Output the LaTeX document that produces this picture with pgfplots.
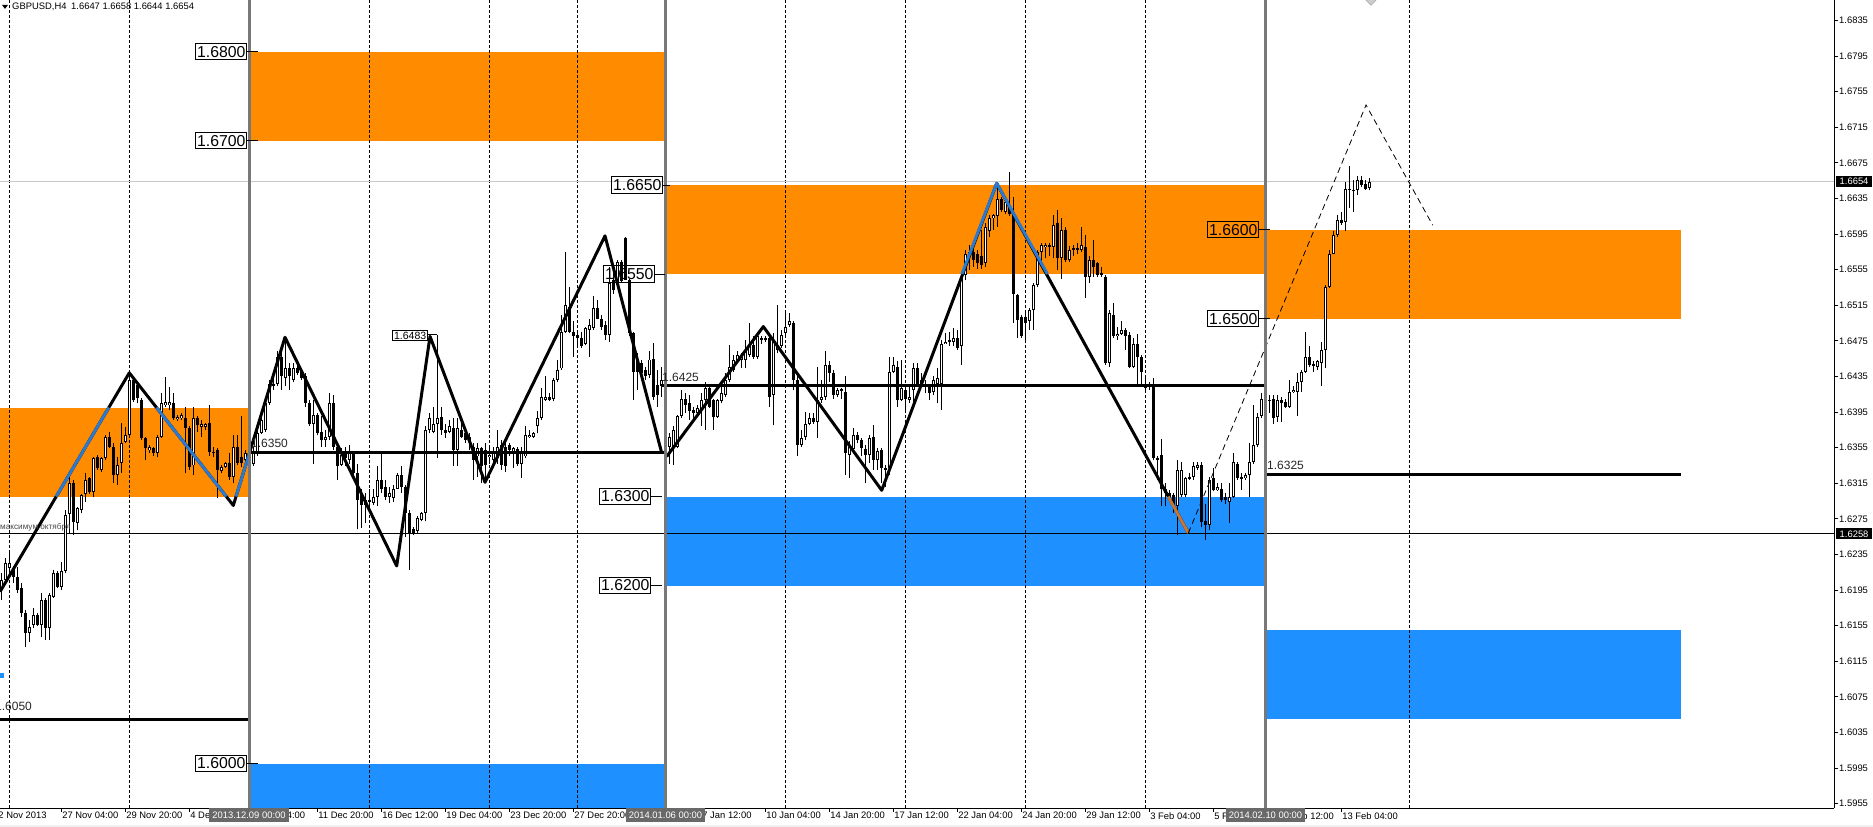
\documentclass[border=0pt]{standalone}
\usepackage{fontspec}
\setmainfont{Liberation Sans}
\usepackage{pgfplots}
\pgfplotsset{compat=1.18}
\usepackage{pgfplotstable}
\definecolor{zorange}{RGB}{255,140,0}
\definecolor{zblue}{RGB}{30,144,255}
\definecolor{zzblue}{RGB}{42,122,210}
\definecolor{zzbrown}{RGB}{200,117,51}
\definecolor{sepgray}{RGB}{120,120,120}
\definecolor{dategray}{RGB}{105,105,105}
\newcommand{\ticksize}{\fontsize{9.4bp}{11bp}\selectfont}
\tikzset{lvl/.style={draw=black, line width=0.8bp, inner xsep=1.2bp, inner ysep=0pt, minimum height=16.5bp, font=\fontsize{15.8bp}{17bp}\selectfont, text=black},
 piv/.style={anchor=south west, inner sep=0pt, font=\fontsize{12bp}{13bp}\selectfont, text=black!85},
 datebox/.style={fill=dategray, text=white, font=\ticksize, inner xsep=3bp, inner ysep=0pt, minimum height=14bp, anchor=north},
 curbox/.style={fill=black, text=white, font=\ticksize, inner xsep=3.5bp, inner ysep=0pt, minimum height=11bp, anchor=west}}
\pgfplotstableread{
x o h l c
1.2 1.6195 1.6214 1.6184 1.6206
5.2 1.6206 1.6231 1.6204 1.6225
9.2 1.6220 1.6240 1.6210 1.6225
13.2 1.6220 1.6222 1.6203 1.6210
17.2 1.6210 1.6221 1.6192 1.6195
21.2 1.6197 1.6203 1.6165 1.6169
25.2 1.6169 1.6173 1.6131 1.6147
29.2 1.6147 1.6161 1.6137 1.6154
33.2 1.6156 1.6175 1.6152 1.6167
37.2 1.6167 1.6169 1.6154 1.6156
41.2 1.6156 1.6192 1.6142 1.6184
45.2 1.6184 1.6186 1.6139 1.6152
49.2 1.6152 1.6192 1.6139 1.6189
53.2 1.6187 1.6218 1.6186 1.6214
57.2 1.6214 1.6216 1.6197 1.6199
61.2 1.6199 1.6226 1.6195 1.6216
65.2 1.6216 1.6285 1.6214 1.6279
69.2 1.6281 1.6327 1.6259 1.6315
73.2 1.6315 1.6319 1.6257 1.6271
77.2 1.6270 1.6288 1.6262 1.6287
81.2 1.6285 1.6303 1.6281 1.6302
85.2 1.6303 1.6326 1.6294 1.6319
89.2 1.6321 1.6322 1.6303 1.6305
93.2 1.6305 1.6344 1.6300 1.6343
97.2 1.6344 1.6347 1.6330 1.6332
101.2 1.6330 1.6344 1.6328 1.6343
105.2 1.6343 1.6369 1.6341 1.6367
109.2 1.6367 1.6373 1.6354 1.6356
113.2 1.6356 1.6360 1.6315 1.6324
117.2 1.6324 1.6344 1.6313 1.6335
121.2 1.6338 1.6383 1.6327 1.6360
125.2 1.6361 1.6378 1.6360 1.6369
129.2 1.6369 1.6439 1.6367 1.6431
133.2 1.6431 1.6434 1.6406 1.6409
137.2 1.6425 1.6428 1.6405 1.6411
141.2 1.6409 1.6411 1.6364 1.6366
145.2 1.6366 1.6367 1.6341 1.6355
149.2 1.6352 1.6358 1.6349 1.6356
153.2 1.6355 1.6356 1.6346 1.6349
157.2 1.6349 1.6369 1.6344 1.6367
161.2 1.6367 1.6416 1.6366 1.6405
165.2 1.6403 1.6434 1.6401 1.6406
169.2 1.6403 1.6423 1.6397 1.6406
173.2 1.6405 1.6416 1.6386 1.6388
177.2 1.6387 1.6392 1.6385 1.6390
181.2 1.6388 1.6394 1.6386 1.6392
185.2 1.6388 1.6401 1.6326 1.6377
189.2 1.6377 1.6379 1.6330 1.6333
193.2 1.6335 1.6401 1.6324 1.6388
197.2 1.6388 1.6390 1.6373 1.6380
201.2 1.6378 1.6386 1.6367 1.6382
205.2 1.6378 1.6383 1.6375 1.6382
209.2 1.6383 1.6403 1.6346 1.6350
213.2 1.6350 1.6356 1.6344 1.6349
217.2 1.6352 1.6354 1.6298 1.6330
221.2 1.6329 1.6335 1.6326 1.6333
225.2 1.6333 1.6339 1.6332 1.6338
229.2 1.6338 1.6349 1.6319 1.6322
233.2 1.6322 1.6369 1.6315 1.6356
237.2 1.6356 1.6369 1.6335 1.6338
241.2 1.6344 1.6390 1.6333 1.6338
245.2 1.6341 1.6352 1.6338 1.6349
249.2 1.6349 1.6356 1.6346 1.6352
253.2 1.6337 1.6356 1.6334 1.6349
257.2 1.6349 1.6375 1.6345 1.6371
261.2 1.6371 1.6390 1.6370 1.6386
265.2 1.6375 1.6409 1.6373 1.6405
269.2 1.6405 1.6431 1.6403 1.6427
273.2 1.6427 1.6435 1.6420 1.6424
277.2 1.6427 1.6463 1.6424 1.6457
281.2 1.6457 1.6465 1.6420 1.6435
285.2 1.6433 1.6476 1.6424 1.6444
289.2 1.6444 1.6450 1.6420 1.6435
293.2 1.6431 1.6450 1.6429 1.6444
297.2 1.6444 1.6451 1.6437 1.6439
301.2 1.6441 1.6444 1.6431 1.6433
305.2 1.6435 1.6439 1.6401 1.6405
309.2 1.6405 1.6409 1.6379 1.6382
313.2 1.6382 1.6409 1.6337 1.6392
317.2 1.6392 1.6394 1.6369 1.6371
321.2 1.6373 1.6390 1.6356 1.6364
325.2 1.6364 1.6375 1.6356 1.6367
329.2 1.6367 1.6416 1.6364 1.6405
333.2 1.6405 1.6414 1.6352 1.6356
337.2 1.6356 1.6360 1.6319 1.6334
341.2 1.6335 1.6354 1.6334 1.6347
345.2 1.6349 1.6356 1.6334 1.6343
349.2 1.6341 1.6358 1.6337 1.6349
353.2 1.6349 1.6351 1.6322 1.6326
357.2 1.6326 1.6337 1.6263 1.6296
361.2 1.6304 1.6308 1.6265 1.6291
365.2 1.6291 1.6304 1.6270 1.6296
369.2 1.6296 1.6308 1.6289 1.6294
373.2 1.6293 1.6308 1.6291 1.6300
377.2 1.6300 1.6334 1.6289 1.6319
381.2 1.6319 1.6349 1.6304 1.6308
385.2 1.6311 1.6319 1.6296 1.6300
389.2 1.6300 1.6311 1.6293 1.6304
393.2 1.6298 1.6313 1.6294 1.6309
397.2 1.6309 1.6326 1.6308 1.6324
401.2 1.6324 1.6334 1.6304 1.6311
405.2 1.6311 1.6313 1.6255 1.6281
409.2 1.6281 1.6285 1.6218 1.6259
413.2 1.6263 1.6266 1.6257 1.6259
417.2 1.6261 1.6278 1.6259 1.6276
421.2 1.6274 1.6283 1.6272 1.6281
425.2 1.6281 1.6379 1.6272 1.6375
429.2 1.6375 1.6394 1.6371 1.6388
433.2 1.6373 1.6401 1.6371 1.6382
437.2 1.6382 1.6482 1.6343 1.6388
441.2 1.6390 1.6401 1.6369 1.6375
445.2 1.6375 1.6382 1.6366 1.6371
449.2 1.6373 1.6386 1.6371 1.6379
453.2 1.6377 1.6388 1.6334 1.6352
457.2 1.6352 1.6388 1.6334 1.6377
461.2 1.6375 1.6388 1.6366 1.6367
465.2 1.6371 1.6375 1.6360 1.6364
469.2 1.6367 1.6371 1.6352 1.6364
473.2 1.6356 1.6360 1.6319 1.6341
477.2 1.6345 1.6360 1.6322 1.6354
481.2 1.6354 1.6356 1.6315 1.6334
485.2 1.6352 1.6360 1.6315 1.6335
489.2 1.6345 1.6354 1.6337 1.6347
493.2 1.6341 1.6356 1.6337 1.6349
497.2 1.6343 1.6375 1.6337 1.6356
501.2 1.6358 1.6364 1.6330 1.6336
505.2 1.6356 1.6360 1.6328 1.6334
509.2 1.6358 1.6360 1.6345 1.6352
513.2 1.6349 1.6356 1.6332 1.6354
517.2 1.6354 1.6356 1.6334 1.6337
521.2 1.6337 1.6356 1.6321 1.6349
525.2 1.6345 1.6379 1.6343 1.6369
529.2 1.6367 1.6375 1.6366 1.6369
533.2 1.6367 1.6373 1.6366 1.6371
537.2 1.6379 1.6396 1.6371 1.6388
541.2 1.6388 1.6422 1.6386 1.6412
545.2 1.6409 1.6435 1.6407 1.6412
549.2 1.6412 1.6416 1.6407 1.6409
553.2 1.6410 1.6433 1.6407 1.6431
557.2 1.6431 1.6454 1.6429 1.6442
561.2 1.6444 1.6504 1.6442 1.6485
565.2 1.6485 1.6575 1.6484 1.6515
569.2 1.6513 1.6536 1.6484 1.6485
573.2 1.6485 1.6497 1.6457 1.6480
577.2 1.6482 1.6484 1.6469 1.6478
581.2 1.6478 1.6485 1.6467 1.6469
585.2 1.6472 1.6491 1.6470 1.6489
589.2 1.6487 1.6500 1.6457 1.6493
593.2 1.6489 1.6525 1.6487 1.6512
597.2 1.6512 1.6521 1.6499 1.6500
601.2 1.6500 1.6504 1.6487 1.6491
605.2 1.6493 1.6497 1.6476 1.6482
609.2 1.6482 1.6558 1.6474 1.6540
613.2 1.6543 1.6558 1.6528 1.6532
617.2 1.6538 1.6566 1.6536 1.6564
621.2 1.6564 1.6566 1.6540 1.6542
625.2 1.6590 1.6592 1.6543 1.6543
629.2 1.6543 1.6545 1.6480 1.6484
633.2 1.6484 1.6485 1.6409 1.6440
637.2 1.6452 1.6461 1.6420 1.6440
641.2 1.6450 1.6454 1.6435 1.6439
645.2 1.6442 1.6446 1.6431 1.6435
649.2 1.6437 1.6463 1.6433 1.6454
653.2 1.6455 1.6472 1.6409 1.6412
657.2 1.6425 1.6442 1.6401 1.6414
661.2 1.6424 1.6446 1.6412 1.6431
665.2 1.6430 1.6433 1.6345 1.6360
669.2 1.6356 1.6371 1.6337 1.6367
673.2 1.6356 1.6379 1.6336 1.6375
677.2 1.6356 1.6392 1.6354 1.6390
681.2 1.6390 1.6420 1.6388 1.6410
685.2 1.6410 1.6416 1.6394 1.6403
689.2 1.6405 1.6414 1.6386 1.6396
693.2 1.6397 1.6401 1.6384 1.6394
697.2 1.6394 1.6403 1.6392 1.6399
701.2 1.6397 1.6416 1.6379 1.6409
705.2 1.6409 1.6429 1.6375 1.6422
709.2 1.6422 1.6424 1.6399 1.6401
713.2 1.6409 1.6410 1.6375 1.6390
717.2 1.6390 1.6410 1.6388 1.6409
721.2 1.6407 1.6424 1.6405 1.6416
725.2 1.6414 1.6439 1.6412 1.6431
729.2 1.6431 1.6470 1.6429 1.6446
733.2 1.6442 1.6459 1.6440 1.6454
737.2 1.6454 1.6463 1.6452 1.6459
741.2 1.6454 1.6461 1.6444 1.6457
745.2 1.6454 1.6476 1.6444 1.6465
749.2 1.6459 1.6495 1.6457 1.6470
753.2 1.6470 1.6480 1.6455 1.6457
757.2 1.6457 1.6485 1.6455 1.6480
761.2 1.6478 1.6480 1.6471 1.6476
765.2 1.6478 1.6480 1.6474 1.6476
769.2 1.6478 1.6482 1.6401 1.6412
773.2 1.6414 1.6484 1.6380 1.6476
777.2 1.6465 1.6515 1.6461 1.6470
781.2 1.6469 1.6487 1.6467 1.6482
785.2 1.6484 1.6506 1.6480 1.6491
789.2 1.6493 1.6506 1.6491 1.6497
793.2 1.6495 1.6497 1.6420 1.6431
797.2 1.6431 1.6435 1.6345 1.6358
801.2 1.6358 1.6375 1.6356 1.6366
805.2 1.6367 1.6395 1.6364 1.6382
809.2 1.6382 1.6394 1.6380 1.6388
813.2 1.6388 1.6394 1.6382 1.6384
817.2 1.6384 1.6446 1.6366 1.6409
821.2 1.6409 1.6431 1.6405 1.6412
825.2 1.6412 1.6463 1.6409 1.6448
829.2 1.6448 1.6452 1.6429 1.6439
833.2 1.6439 1.6442 1.6410 1.6414
837.2 1.6414 1.6422 1.6412 1.6420
841.2 1.6421 1.6422 1.6410 1.6419
845.2 1.6418 1.6435 1.6324 1.6349
849.2 1.6347 1.6362 1.6321 1.6356
853.2 1.6354 1.6377 1.6352 1.6369
857.2 1.6369 1.6373 1.6360 1.6364
861.2 1.6364 1.6366 1.6345 1.6354
865.2 1.6354 1.6358 1.6315 1.6347
869.2 1.6347 1.6369 1.6338 1.6366
873.2 1.6367 1.6380 1.6330 1.6341
877.2 1.6341 1.6354 1.6330 1.6351
881.2 1.6352 1.6354 1.6315 1.6332
885.2 1.6332 1.6336 1.6311 1.6330
889.2 1.6332 1.6457 1.6324 1.6440
893.2 1.6440 1.6457 1.6439 1.6448
897.2 1.6446 1.6452 1.6401 1.6409
901.2 1.6409 1.6454 1.6407 1.6422
905.2 1.6420 1.6426 1.6394 1.6410
909.2 1.6409 1.6427 1.6405 1.6412
913.2 1.6420 1.6450 1.6405 1.6444
917.2 1.6444 1.6450 1.6426 1.6427
921.2 1.6427 1.6439 1.6426 1.6431
925.2 1.6424 1.6431 1.6416 1.6427
929.2 1.6426 1.6427 1.6409 1.6416
933.2 1.6418 1.6435 1.6414 1.6431
937.2 1.6427 1.6444 1.6405 1.6433
941.2 1.6427 1.6476 1.6397 1.6472
945.2 1.6472 1.6484 1.6471 1.6474
949.2 1.6474 1.6485 1.6469 1.6476
953.2 1.6474 1.6489 1.6469 1.6478
957.2 1.6478 1.6487 1.6465 1.6467
961.2 1.6469 1.6551 1.6448 1.6547
965.2 1.6549 1.6577 1.6543 1.6573
969.2 1.6572 1.6583 1.6555 1.6575
973.2 1.6575 1.6579 1.6558 1.6566
977.2 1.6572 1.6577 1.6556 1.6562
981.2 1.6570 1.6600 1.6556 1.6560
985.2 1.6562 1.6607 1.6558 1.6603
989.2 1.6598 1.6616 1.6592 1.6613
993.2 1.6613 1.6618 1.6600 1.6616
997.2 1.6615 1.6652 1.6603 1.6635
1001.2 1.6635 1.6637 1.6620 1.6622
1005.2 1.6620 1.6635 1.6618 1.6631
1009.2 1.6626 1.6665 1.6615 1.6618
1013.2 1.6618 1.6637 1.6495 1.6528
1017.2 1.6526 1.6528 1.6478 1.6498
1021.2 1.6502 1.6504 1.6478 1.6480
1025.2 1.6502 1.6510 1.6472 1.6495
1029.2 1.6497 1.6512 1.6487 1.6510
1033.2 1.6510 1.6540 1.6487 1.6538
1037.2 1.6538 1.6577 1.6536 1.6575
1041.2 1.6575 1.6585 1.6562 1.6583
1045.2 1.6581 1.6585 1.6568 1.6583
1049.2 1.6583 1.6585 1.6570 1.6581
1053.2 1.6581 1.6616 1.6568 1.6605
1057.2 1.6607 1.6622 1.6555 1.6568
1061.2 1.6568 1.6613 1.6545 1.6600
1065.2 1.6600 1.6603 1.6564 1.6566
1069.2 1.6566 1.6581 1.6564 1.6577
1073.2 1.6579 1.6583 1.6570 1.6577
1077.2 1.6579 1.6585 1.6573 1.6577
1081.2 1.6577 1.6603 1.6575 1.6583
1085.2 1.6581 1.6594 1.6523 1.6547
1089.2 1.6547 1.6570 1.6540 1.6566
1093.2 1.6566 1.6588 1.6547 1.6558
1097.2 1.6562 1.6564 1.6547 1.6549
1101.2 1.6551 1.6558 1.6547 1.6549
1105.2 1.6547 1.6549 1.6448 1.6450
1109.2 1.6450 1.6510 1.6446 1.6506
1113.2 1.6504 1.6517 1.6478 1.6480
1117.2 1.6480 1.6491 1.6476 1.6483
1121.2 1.6483 1.6497 1.6482 1.6487
1125.2 1.6487 1.6489 1.6465 1.6480
1129.2 1.6481 1.6485 1.6444 1.6446
1133.2 1.6446 1.6478 1.6444 1.6472
1137.2 1.6472 1.6483 1.6427 1.6457
1141.2 1.6457 1.6459 1.6426 1.6440
1145.2 1.6422 1.6435 1.6420 1.6426
1149.2 1.6424 1.6429 1.6420 1.6426
1153.2 1.6424 1.6433 1.6341 1.6343
1157.2 1.6341 1.6345 1.6319 1.6343
1161.2 1.6347 1.6365 1.6289 1.6309
1165.2 1.6309 1.6315 1.6289 1.6304
1169.2 1.6304 1.6307 1.6296 1.6300
1173.2 1.6302 1.6304 1.6281 1.6289
1177.2 1.6289 1.6341 1.6257 1.6330
1181.2 1.6302 1.6339 1.6300 1.6330
1185.2 1.6302 1.6322 1.6300 1.6321
1189.2 1.6321 1.6326 1.6319 1.6322
1193.2 1.6322 1.6339 1.6319 1.6334
1197.2 1.6332 1.6339 1.6330 1.6336
1201.2 1.6336 1.6339 1.6266 1.6272
1205.2 1.6272 1.6292 1.6251 1.6268
1209.2 1.6268 1.6322 1.6262 1.6319
1213.2 1.6321 1.6332 1.6306 1.6307
1217.2 1.6307 1.6315 1.6306 1.6311
1221.2 1.6309 1.6315 1.6294 1.6296
1225.2 1.6300 1.6304 1.6292 1.6296
1229.2 1.6294 1.6315 1.6270 1.6300
1233.2 1.6300 1.6349 1.6298 1.6339
1237.2 1.6337 1.6339 1.6319 1.6321
1241.2 1.6322 1.6326 1.6307 1.6321
1245.2 1.6321 1.6326 1.6319 1.6324
1249.2 1.6324 1.6360 1.6300 1.6339
1253.2 1.6339 1.6403 1.6337 1.6358
1257.2 1.6358 1.6394 1.6356 1.6390
1261.2 1.6390 1.6416 1.6388 1.6410
1265.2 1.6410 1.6420 1.6400 1.6409
1269.2 1.6409 1.6414 1.6394 1.6408
1273.2 1.6410 1.6414 1.6382 1.6388
1277.2 1.6390 1.6414 1.6384 1.6409
1281.2 1.6409 1.6412 1.6384 1.6405
1285.2 1.6406 1.6410 1.6399 1.6401
1289.2 1.6401 1.6431 1.6399 1.6418
1293.2 1.6418 1.6424 1.6416 1.6420
1297.2 1.6418 1.6439 1.6390 1.6429
1301.2 1.6429 1.6442 1.6418 1.6440
1305.2 1.6440 1.6485 1.6439 1.6457
1309.2 1.6457 1.6469 1.6446 1.6448
1313.2 1.6449 1.6452 1.6440 1.6447
1317.2 1.6446 1.6454 1.6442 1.6452
1321.2 1.6450 1.6474 1.6424 1.6465
1325.2 1.6465 1.6538 1.6444 1.6536
1329.2 1.6536 1.6577 1.6534 1.6573
1333.2 1.6573 1.6598 1.6572 1.6594
1337.2 1.6594 1.6616 1.6592 1.6611
1341.2 1.6611 1.6620 1.6605 1.6607
1345.2 1.6609 1.6654 1.6598 1.6646
1349.2 1.6646 1.6671 1.6624 1.6645
1353.2 1.6645 1.6656 1.6620 1.6643
1357.2 1.6645 1.6660 1.6639 1.6656
1361.2 1.6656 1.6660 1.6648 1.6650
1365.2 1.6651 1.6656 1.6645 1.6646
1369.2 1.6647 1.6658 1.6644 1.6654
}\candles
\begin{document}
\begin{tikzpicture}
\useasboundingbox (0,-19bp) rectangle (1873bp,808bp);
\begin{axis}[
  at={(0,0)}, anchor=south west, scale only axis,
  width=1834bp, height=808bp,
  xmin=0, xmax=1834, ymin=1.5950, ymax=1.6858,
  clip mode=individual,
  axis x line*=bottom, axis y line*=right,
  axis line style={black, line width=1bp},
  tick align=outside, major tick length=4bp,
  tick style={black, line width=0.8bp},
  xtick={61.2,125.2,189.2,253.2,317.2,381.2,445.2,509.2,573.2,701.2,765.2,829.2,893.2,957.2,1021.2,1085.2,1149.2,1213.2,1277.2,1341.2},
  xticklabels={27 Nov 04:00,29 Nov 20:00,4 Dec 12:00,9 Dec 04:00,11 Dec 20:00,16 Dec 12:00,19 Dec 04:00,23 Dec 20:00,27 Dec 20:00,7 Jan 12:00,10 Jan 04:00,14 Jan 20:00,17 Jan 12:00,22 Jan 04:00,24 Jan 20:00,29 Jan 12:00,3 Feb 04:00,5 Feb 20:00,10 Feb 12:00,13 Feb 04:00},
  xticklabel style={anchor=north west, inner sep=0pt, xshift=1bp, font=\ticksize},
  ytick={1.5955,1.5995,1.6035,1.6075,1.6115,1.6155,1.6195,1.6235,1.6275,1.6315,1.6355,1.6395,1.6435,1.6475,1.6515,1.6555,1.6595,1.6635,1.6675,1.6715,1.6755,1.6795,1.6835},
  scaled y ticks=false,
  yticklabel style={anchor=west, inner sep=0pt, xshift=1bp, font=\ticksize, /pgf/number format/.cd, fixed, fixed zerofill, precision=4, assume math mode=true},
]
% zones
\fill[zorange] (0,1.6300) rectangle (249,1.6400);
\fill[zblue] (0,1.6096) rectangle (4,1.6102);
\fill[zorange] (249,1.6700) rectangle (665.5,1.6800);
\fill[zblue] (249,1.5950) rectangle (665.5,1.6000);
\fill[zorange] (665.5,1.6550) rectangle (1265.5,1.6650);
\fill[zblue] (665.5,1.6200) rectangle (1265.5,1.6300);
\fill[zorange] (1265.5,1.6500) rectangle (1681,1.6600);
\fill[zblue] (1265.5,1.6050) rectangle (1681,1.6150);
% grid
\pgfplotsinvokeforeach{9.3,129.3,369.3,489.3,577.3,785.3,905.3,1025.3,1145.3,1409.3}{
  \draw[black, line width=0.8bp, dash pattern=on 3bp off 2bp] (#1,1.5950) -- (#1,1.6858);
}
\draw[black, line width=1bp] (0,1.6258) -- (1834,1.6258);
\draw[black!22, line width=1bp] (0,1.6654) -- (1834,1.6654);
% candles: wicks, bodies, hollow bullish bodies
\addplot[draw=none, mark=none, forget plot, error bars/.cd, y dir=plus, y explicit, error mark=none,
  error bar style={draw=black, line width=1bp}]
  table[x=x, y=l, y error expr=\thisrow{h}-\thisrow{l}] {\candles};
\addplot[draw=none, mark=none, forget plot, error bars/.cd, y dir=both, y explicit, error mark=none,
  error bar style={draw=black, line width=3.4bp}]
  table[x=x, y expr=(\thisrow{o}+\thisrow{c})/2, y error expr={max(abs(\thisrow{c}-\thisrow{o})/2,0.00006)}] {\candles};
\addplot[draw=none, mark=none, forget plot, restrict expr to domain={\thisrow{c}-\thisrow{o}}{0.0002:1},
  error bars/.cd, y dir=both, y explicit, error mark=none,
  error bar style={draw=white, line width=1.4bp}]
  table[x=x, y expr=(\thisrow{o}+\thisrow{c})/2, y error expr={(\thisrow{c}-\thisrow{o})/2-0.00011}] {\candles};
% pivot lines
\draw[black, line width=3bp] (0,1.6050) -- (249,1.6050);
\draw[black, line width=3bp] (249,1.6350) -- (665.5,1.6350);
\draw[black, line width=3bp] (661,1.6425) -- (1265.5,1.6425);
\draw[black, line width=3bp] (1265.5,1.6325) -- (1681,1.6325);
% zigzag
\addplot[black, line width=3bp, line join=round, mark=none] coordinates {(0,1.6193) (129.3,1.6439) (233.3,1.6290) (285,1.6479) (396.7,1.6222) (430,1.6480) (485,1.6316) (605,1.6593) (661.7,1.6349)};
\addplot[black, line width=3bp, line join=round, mark=none] coordinates {(666.7,1.6345) (763.3,1.6491) (881.7,1.6307) (996.7,1.6652) (1188.3,1.6259)};
\addplot[zzblue, line width=3bp, mark=none] coordinates {(56.2,1.6300) (108.8,1.6400)};
\addplot[zzblue, line width=3bp, mark=none] coordinates {(156.5,1.6400) (226.3,1.6300)};
\addplot[zzblue, line width=3bp, mark=none] coordinates {(236.0,1.6300) (249,1.6347)};
\addplot[zzblue, line width=3bp, line join=round, mark=none] coordinates {(961.9,1.6550) (996.7,1.6652) (1047.4,1.6550)};
\addplot[zzbrown, line width=3bp, mark=none] coordinates {(1168.2,1.6300) (1188.3,1.6259)};
\addplot[black, line width=0.8bp, dash pattern=on 6bp off 4bp, mark=none] coordinates {(1188.3,1.6259) (1366,1.6740) (1432.7,1.6605)};
% separators
\pgfplotsinvokeforeach{249,665.5,1265.5}{
  \draw[sepgray, line width=3bp] (#1,1.5950) -- (#1,1.6858);
}
% level labels
\draw[black, line width=0.8bp] (247,1.6800) -- (258,1.6800);
\draw[black, line width=0.8bp] (247,1.6700) -- (258,1.6700);
\draw[black, line width=0.8bp] (247,1.6000) -- (258,1.6000);
\node[lvl, anchor=east] at (247,1.6800) {1.6800};
\node[lvl, anchor=east] at (247,1.6700) {1.6700};
\node[lvl, anchor=east] at (247,1.6000) {1.6000};
\draw[black, line width=0.8bp] (663,1.6650) -- (670,1.6650);
\draw[black, line width=0.8bp] (655,1.6550) -- (665,1.6550);
\draw[black, line width=0.8bp] (651,1.6300) -- (662,1.6300);
\draw[black, line width=0.8bp] (651,1.6200) -- (662,1.6200);
\node[lvl, anchor=east] at (663,1.6650) {1.6650};
\node[lvl, anchor=east] at (655,1.6550) {1.6550};
\node[lvl, anchor=east] at (651,1.6300) {1.6300};
\node[lvl, anchor=east] at (651,1.6200) {1.6200};
\draw[black, line width=0.8bp] (1259,1.6600) -- (1270,1.6600);
\draw[black, line width=0.8bp] (1259,1.6500) -- (1270,1.6500);
\node[lvl, anchor=east] at (1259,1.6600) {1.6600};
\node[lvl, anchor=east] at (1259,1.6500) {1.6500};
% pivot labels
\node[piv] at (-5,1.6059) {1.6050};
\node[piv] at (251,1.6355) {1.6350};
\node[piv] at (662,1.6429) {1.6425};
\node[piv] at (1267,1.6330) {1.6325};
\draw[black, line width=0.6bp] (428,1.6482) -- (437.2,1.6482);
\node[draw=black, line width=0.6bp, inner xsep=1.5bp, inner ysep=1bp, anchor=east, font=\fontsize{10.5bp}{11bp}\selectfont] at (428,1.6481) {1.6483};
\node[anchor=west, inner sep=0pt, font=\fontsize{8.2bp}{9bp}\selectfont, text=black!72] at (0,1.6265) {максимум октября};
% title
\fill[black] (2,1.68525) -- (8,1.68525) -- (5,1.68480) -- cycle;
\node[anchor=west, inner sep=0pt, font=\ticksize] at (12,1.68505) {GBPUSD,H4\enspace 1.6647 1.6658 1.6644 1.6654};
\filldraw[fill=black!20, draw=black!40] (1371,1.6863) -- (1376,1.68575) -- (1371,1.6852) -- (1366,1.68575) -- cycle;
% current price boxes
\node[curbox] at (1836,1.6654) {1.6654};
\node[curbox] at (1836,1.6258) {1.6258};
\node[anchor=north west, inner sep=0pt, font=\ticksize] at (-7,1.59455) {22 Nov 2013};
\end{axis}
\node[datebox] at (249bp,0bp) {2013.12.09 00:00};
\node[datebox] at (665.5bp,0bp) {2014.01.06 00:00};
\node[datebox] at (1265.5bp,0bp) {2014.02.10 00:00};
\fill[black!6] (0,-16.5bp) rectangle (1873bp,-19bp);
\end{tikzpicture}
\end{document}
